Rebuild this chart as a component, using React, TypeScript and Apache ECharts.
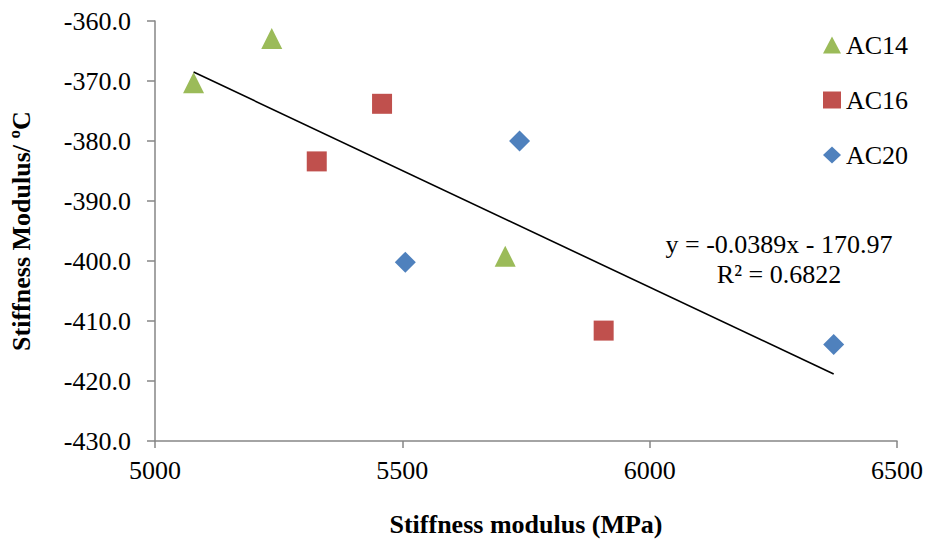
import React, { useEffect, useRef } from "react";
import * as echarts from "echarts";

const ac14: [number, number][] = [
  [5078, -370.3],
  [5236, -362.9],
  [5708, -399.2],
];
const ac16: [number, number][] = [
  [5327, -383.4],
  [5459, -373.8],
  [5907, -411.6],
];
const ac20: [number, number][] = [
  [5506, -400.2],
  [5737, -380.0],
  [6372, -413.9],
];
const slope = -0.0389;
const intercept = -170.97;
const rSquared = "0.6822";

const FONT = "'Liberation Serif', 'Times New Roman', serif";
const FS = 26;

export default function App() {
  const ref = useRef<HTMLDivElement>(null);
  useEffect(() => {
    if (!ref.current) return;
    const chart = echarts.init(ref.current, undefined, { renderer: "svg" });
    const all = [...ac14, ...ac16, ...ac20].map((p) => p[0]);
    const xMin = Math.min(...all);
    const xMax = Math.max(...all);
    const trend = [
      [xMin, slope * xMin + intercept],
      [xMax, slope * xMax + intercept],
    ];
    const axisLine = { show: true, lineStyle: { color: "#868686", width: 1.5 } };
    chart.setOption({
      animation: false,
      backgroundColor: "#ffffff",
      textStyle: { fontFamily: FONT },
      grid: { left: 155, right: 27, top: 21, bottom: 98 },
      legend: {
        orient: "vertical",
        left: 818,
        top: 27,
        itemWidth: 18,
        itemHeight: 17,
        itemGap: 29,
        textStyle: { fontFamily: FONT, fontSize: FS, color: "#000" },
        data: [
          { name: "AC14", icon: "triangle" },
          { name: "AC16", icon: "rect" },
          { name: "AC20", icon: "diamond" },
        ],
      },
      xAxis: {
        type: "value",
        min: 5000,
        max: 6500,
        interval: 500,
        name: "Stiffness modulus (MPa)",
        nameLocation: "middle",
        nameGap: 70,
        nameTextStyle: { fontFamily: FONT, fontSize: FS, fontWeight: "bold", color: "#000" },
        axisLine,
        axisTick: { show: true, length: 7, lineStyle: { color: "#868686", width: 1.5 } },
        axisLabel: {
          margin: 16,
          fontFamily: FONT,
          fontSize: FS,
          color: "#000",
          formatter: (v: number) => String(v),
        },
        splitLine: { show: false },
      },
      yAxis: {
        type: "value",
        min: -430,
        max: -360,
        interval: 10,
        name: "Stiffness Modulus/ ºC",
        nameLocation: "middle",
        nameGap: 121,
        nameTextStyle: { fontFamily: FONT, fontSize: FS, fontWeight: "bold", color: "#000" },
        axisLine,
        axisTick: { show: true, length: 8, lineStyle: { color: "#868686", width: 1.5 } },
        axisLabel: {
          margin: 24,
          fontFamily: FONT,
          fontSize: FS,
          color: "#000",
          formatter: (v: number) => v.toFixed(1),
        },
        splitLine: { show: false },
      },
      series: [
        {
          name: "Trend",
          type: "line",
          data: trend,
          symbol: "none",
          lineStyle: { color: "#000", width: 1.6 },
          silent: true,
          z: 1,
        },
        {
          name: "AC14",
          type: "scatter",
          data: ac14,
          symbol: "triangle",
          symbolSize: [21, 21],
          itemStyle: { color: "#9BBB59", opacity: 1 },
          z: 3,
        },
        {
          name: "AC16",
          type: "scatter",
          data: ac16,
          symbol: "rect",
          symbolSize: 20,
          itemStyle: { color: "#C0504D", opacity: 1 },
          z: 3,
        },
        {
          name: "AC20",
          type: "scatter",
          data: ac20,
          symbol: "diamond",
          symbolSize: 21,
          itemStyle: { color: "#4F81BD", opacity: 1 },
          z: 3,
        },
      ],
      graphic: [
        {
          type: "text",
          x: 779,
          y: 244,
          style: {
            text: `y = ${slope.toFixed(4)}x - ${Math.abs(intercept).toFixed(2)}`,
            fontFamily: FONT,
            fontSize: FS,
            fill: "#000",
            align: "center",
            verticalAlign: "middle",
          },
        },
        {
          type: "text",
          x: 779,
          y: 274,
          style: {
            text: `R² = ${rSquared}`,
            fontFamily: FONT,
            fontSize: FS,
            fill: "#000",
            align: "center",
            verticalAlign: "middle",
          },
        },
      ],
    });
    return () => chart.dispose();
  }, []);
  return (
    <div
      ref={ref}
      style={{ position: "absolute", left: 0, top: 0, width: 926, height: 542 }}
    />
  );
}
